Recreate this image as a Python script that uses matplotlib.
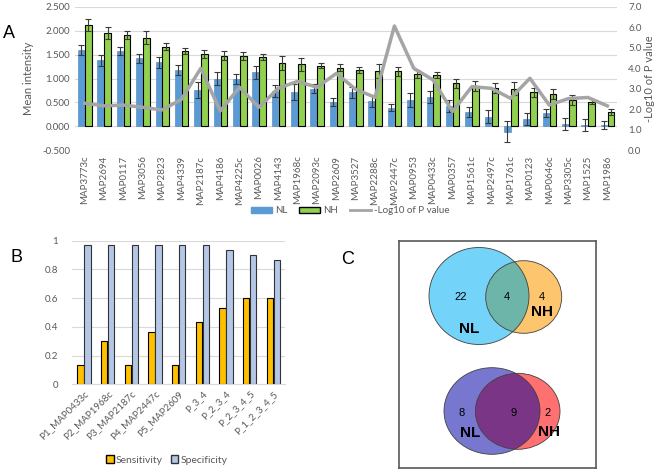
import matplotlib
matplotlib.use("Agg")
import matplotlib.pyplot as plt
import numpy as np
import matplotlib.patches as patches
from matplotlib.lines import Line2D
from matplotlib.ticker import FormatStrFormatter

plt.rcParams['font.family'] = ['Lato', 'DejaVu Sans']

# ---- panel A data ----
genes = ['MAP3773c', 'MAP2694', 'MAP0117', 'MAP3056', 'MAP2823', 'MAP4339', 'MAP2187c',
         'MAP4186', 'MAP4225c', 'MAP0026', 'MAP4143', 'MAP1968c', 'MAP2093c', 'MAP2609',
         'MAP3527', 'MAP2288c', 'MAP2447c', 'MAP0953', 'MAP0433c', 'MAP0357', 'MAP1561c',
         'MAP2497c', 'MAP1761c', 'MAP0123', 'MAP0646c', 'MAP3305c', 'MAP1525', 'MAP1986']
nl_mean = [1.60, 1.38, 1.58, 1.42, 1.34, 1.18, 0.76, 1.00, 0.99, 1.13, 0.74, 0.71, 0.79, 0.51,
           0.71, 0.53, 0.39, 0.55, 0.61, 0.42, 0.30, 0.20, -0.12, 0.15, 0.27, 0.04, 0.02, 0.03]
nl_err = [0.10, 0.12, 0.09, 0.09, 0.11, 0.10, 0.17, 0.14, 0.10, 0.13, 0.12, 0.17, 0.10, 0.09,
          0.12, 0.13, 0.08, 0.14, 0.12, 0.13, 0.10, 0.14, 0.22, 0.12, 0.08, 0.13, 0.13, 0.08]
nh_mean = [2.12, 1.95, 1.91, 1.86, 1.67, 1.58, 1.51, 1.48, 1.47, 1.45, 1.32, 1.30, 1.27, 1.23,
           1.18, 1.16, 1.15, 1.10, 1.07, 0.90, 0.84, 0.80, 0.79, 0.71, 0.67, 0.55, 0.51, 0.29]
nh_err = [0.13, 0.12, 0.08, 0.13, 0.08, 0.07, 0.08, 0.10, 0.08, 0.06, 0.15, 0.14, 0.05, 0.07,
          0.06, 0.14, 0.10, 0.08, 0.06, 0.10, 0.10, 0.11, 0.14, 0.10, 0.10, 0.10, 0.05, 0.06]
neg_log_p = [2.29, 2.16, 2.20, 2.09, 1.96, 2.48, 4.00, 1.91, 3.07, 2.09, 3.02, 3.36, 3.07, 3.75,
             2.97, 2.58, 6.07, 4.00, 3.43, 1.88, 3.10, 3.02, 2.53, 3.51, 2.20, 2.52, 2.57, 2.16]

# ---- panel B data ----
panels = ['P1_MAP0433c', 'P2_MAP1968c', 'P3_MAP2187c', 'P4_MAP2447c', 'P5_MAP2609',
          'P_3_4', 'P_2_3_4', 'P_2_3_4_5', 'P_1_2_3_4_5']
sensitivity = [0.133, 0.300, 0.133, 0.367, 0.133, 0.433, 0.533, 0.600, 0.600]
specificity = [0.967, 0.967, 0.967, 0.967, 0.967, 0.967, 0.933, 0.900, 0.867]

# ---- panel C data (counts: NL only, shared, NH only) ----
venn_top = [22, 4, 4]
venn_bottom = [8, 9, 2]

W, H = 658, 470
TXT = '#595959'
GRID = '#D9D9D9'

fig = plt.figure(figsize=(W / 100, H / 100), dpi=100)

def frac(x0, y0, x1, y1):
    # pixel box (top-left origin) -> figure fraction rect
    return [x0 / W, 1 - y1 / H, (x1 - x0) / W, (y1 - y0) / H]

# ================= A =================
ax = fig.add_axes(frac(75, 7, 617, 150))
x = np.arange(len(genes))
ekw = dict(ecolor='#3A3A3A', elinewidth=0.8, capsize=2, capthick=0.8)
ax.bar(x - 0.17, nl_mean, 0.34, color='#5B9BD5', edgecolor='#4A7FB5', linewidth=0.4,
       yerr=nl_err, error_kw=ekw, zorder=2)
ax.bar(x + 0.19, nh_mean, 0.34, color='#92D050', edgecolor='black', linewidth=0.8,
       yerr=nh_err, error_kw=ekw, zorder=2)
ax.set_xlim(-0.5, len(genes) - 0.5)
ax.set_ylim(-0.5, 2.5)
ax.set_yticks(np.arange(-0.5, 2.51, 0.5))
ax.yaxis.set_major_formatter(FormatStrFormatter('%.3f'))
ax.grid(axis='y', color=GRID, linewidth=0.8, zorder=0)
ax.set_axisbelow(True)
ax.axhline(0, color=GRID, linewidth=0.8, zorder=1)
for s in ax.spines.values():
    s.set_visible(False)
ax.set_xticks(x)
ax.set_xticklabels(genes, rotation=90, fontsize=7, color=TXT)
ax.tick_params(axis='both', length=0, colors=TXT, labelsize=7)
ax.tick_params(axis='x', pad=4)
ax.set_ylabel('Mean intensity', fontsize=8, color=TXT, labelpad=6)

ax2 = ax.twinx()
ax2.plot(x, neg_log_p, color='#A5A5A5', linewidth=2.5, zorder=5)
ax2.set_ylim(0, 7)
ax2.set_yticks(np.arange(0, 7.1, 1))
ax2.yaxis.set_major_formatter(FormatStrFormatter('%.1f'))
ax2.tick_params(axis='y', length=0, colors=TXT, labelsize=7, pad=8)
for s in ax2.spines.values():
    s.set_visible(False)
ax2.set_ylabel('-Log10 of P value', fontsize=8, color=TXT, labelpad=2)

handles = [patches.Patch(facecolor='#5B9BD5', edgecolor='#5B9BD5'),
           patches.Patch(facecolor='#92D050', edgecolor='black'),
           Line2D([0], [0], color='#A5A5A5', linewidth=2)]
fig.legend(handles, ['NL', 'NH', '-Log10 of P value'], loc='center',
           bbox_to_anchor=(350 / W, 1 - 211 / H), ncol=3, frameon=False, fontsize=7,
           handlelength=2.2, handleheight=0.6, handletextpad=0.3, columnspacing=1.2,
           labelcolor=TXT)
fig.text(3 / W, 1 - 33 / H, 'A', fontsize=13, va='center', ha='left',
         family=['Liberation Sans'])

# ================= B =================
bx = fig.add_axes(frac(72, 240.7, 285, 384.3))
xb = np.arange(len(panels))
bx.bar(xb - 0.14, sensitivity, 0.27, color='#FFC000', edgecolor='black', linewidth=0.8, zorder=2)
bx.bar(xb + 0.15, specificity, 0.27, color='#B4C7E7', edgecolor='#333333', linewidth=0.8, zorder=2)
bx.set_xlim(-0.5, len(panels) - 0.5)
bx.set_ylim(0, 1)
bx.set_yticks([0, 0.2, 0.4, 0.6, 0.8, 1])
bx.set_yticklabels(['0', '0.2', '0.4', '0.6', '0.8', '1'])
bx.grid(axis='y', color=GRID, linewidth=0.8, zorder=0)
bx.set_axisbelow(True)
for s in bx.spines.values():
    s.set_visible(False)
bx.spines['bottom'].set_visible(True)
bx.spines['bottom'].set_color(GRID)
bx.set_xticks(xb)
bx.set_xticklabels(panels, rotation=45, ha='right', rotation_mode='anchor', fontsize=7, color=TXT)
bx.tick_params(axis='both', length=0, colors=TXT, labelsize=7)
bx.tick_params(axis='y', pad=10)
bx_handles = [patches.Patch(facecolor='#FFC000', edgecolor='black'),
              patches.Patch(facecolor='#B4C7E7', edgecolor='#333333')]
fig.legend(bx_handles, ['Sensitivity', 'Specificity'], loc='center',
           bbox_to_anchor=(167 / W, 1 - 460 / H), ncol=2, frameon=False, fontsize=7.5,
           handlelength=0.7, handleheight=0.7, handletextpad=0.2, columnspacing=0.8,
           labelcolor=TXT)
fig.text(11 / W, 1 - 258 / H, 'B', fontsize=13, va='center', ha='left',
         family=['Liberation Sans'])

# ================= C =================
cx = fig.add_axes(frac(399, 240.7, 596, 468))
cx.set_xlim(399, 596)
cx.set_ylim(468, 240.7)
cx.set_xticks([])
cx.set_yticks([])
for s in cx.spines.values():
    s.set_color('#595959')
    s.set_linewidth(1.2)

def venn(ax, c1, r1, c2, r2, col1, col2, colx, counts, lab_pos, num_pos):
    a = patches.Ellipse(c1, 2 * r1[0], 2 * r1[1], facecolor=col1, edgecolor='none', zorder=1)
    b = patches.Ellipse(c2, 2 * r2[0], 2 * r2[1], facecolor=col2, edgecolor='none', zorder=1)
    ax.add_patch(a)
    ax.add_patch(b)
    inter = patches.Ellipse(c1, 2 * r1[0], 2 * r1[1], facecolor=colx, edgecolor='none', zorder=2)
    ax.add_patch(inter)
    inter.set_clip_path(b)
    for c, r in [(c1, r1), (c2, r2)]:
        ax.add_patch(patches.Ellipse(c, 2 * r[0], 2 * r[1], facecolor='none',
                                     edgecolor='#404040', linewidth=0.6, zorder=3))
    for n, p in zip(counts, num_pos):
        ax.text(p[0], p[1], str(n), fontsize=8, ha='center', va='center', zorder=4,
                family=['Liberation Sans'])
    for t, p in zip(['NL', 'NH'], lab_pos):
        ax.text(p[0], p[1], t, fontsize=11, fontweight='bold', ha='center', va='center',
                zorder=4, family=['Liberation Sans'])

venn(cx, (479, 296), (50, 48.5), (523.7, 297), (38, 36.3),
     '#74D3F8', '#FCC56E', '#6DB5A8', venn_top,
     [(469, 329), (542, 312)], [(461, 297), (507, 297), (542, 297)])
venn(cx, (492, 411), (48, 43.3), (517.7, 411.3), (42.3, 38),
     '#7777D0', '#FF7070', '#7A3586', venn_bottom,
     [(470, 433), (549, 432)], [(462, 413), (514, 413), (548, 413)])

fig.text(341 / W, 1 - 259 / H, 'C', fontsize=13, va='center', ha='left',
         family=['Liberation Sans'])

fig.savefig('out.png', dpi=100)
